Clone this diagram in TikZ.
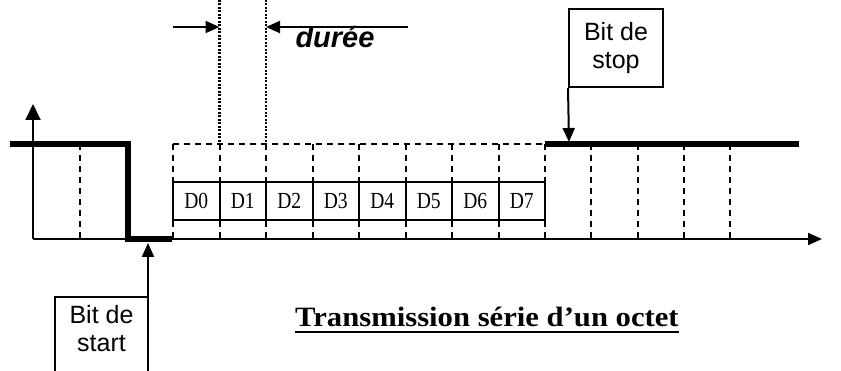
\documentclass[tikz,border=0pt]{standalone}
\usepackage{fontspec}
\setmainfont{Liberation Serif}
\setsansfont{Liberation Sans}
\usetikzlibrary{arrows.meta}
\tikzset{
  sig/.style={line width=5.5pt},
  thin/.style={line width=2pt},
  dashv/.style={line width=2pt, dash pattern=on 6pt off 5pt},
  dotv/.style={line width=2.4pt, dash pattern=on 2pt off 1.5pt},
  arr/.style={line width=2pt, -{Triangle[length=14pt,width=12pt]}},
  bigarr/.style={line width=2pt, -{Triangle[length=16pt,width=15pt]}},
  databox/.style={draw, line width=2pt, minimum width=46.5pt, minimum height=38pt, inner sep=0pt,
     font=\fontsize{23}{25}\selectfont},
  lbl/.style={align=center, inner sep=0pt, font=\sffamily\fontsize{25}{28}\selectfont},
}
\begin{document}
\begin{tikzpicture}[x=1pt,y=-1pt]
\useasboundingbox (0,0) rectangle (841,371);
% axes
\coordinate (O) at (33,239);
\coordinate (ytop) at (33,104);
\coordinate (xend) at (822,239);
\draw[bigarr] (O) -- (ytop);
\draw[arr] (O) -- (xend);
% idle high level and start bit
\coordinate (s0) at (10,144);
\coordinate (s1) at (128,144);
\coordinate (s2) at (128,239);
\coordinate (s3) at (172,239);
\draw[sig] (s0) -- (s1) -- (s2) -- (s3);
\draw[dashv] (80,144) -- (80,239);
% data frame (dashed)
\draw[dashv] (173,144) -- (545,144);
\foreach \x in {173,219.5,266,312.5,359,405.5,452,498.5,545}
  \draw[dashv] (\x,144) -- (\x,239);
% data boxes
\foreach \i [count=\k from 0] in {0,...,7}
  \node[databox] (d\i) at (196.25+46.5*\k,201) {\scalebox{0.85}[1]{D\i}};
% stop level
\coordinate (h0) at (545,144);
\coordinate (h1) at (799,144);
\draw[sig] (h0) -- (h1);
\foreach \x in {591,637.5,684,730}
  \draw[dashv] (\x,144) -- (\x,239);
% duration marks
\coordinate (v1t) at (219.5,0);
\coordinate (v1b) at (219.5,144);
\coordinate (v2t) at (266,0);
\coordinate (v2b) at (266,144);
\draw[dotv] (v1t) -- (v1b);
\draw[dotv] (v2t) -- (v2b);
\coordinate (a1s) at (173,27);
\coordinate (a1e) at (219.5,27);
\coordinate (a2s) at (408,27);
\coordinate (a2e) at (266,27);
\draw[arr] (a1s) -- (a1e);
\draw[arr] (a2s) -- (a2e);
\node[anchor=base, inner sep=0pt, font=\sffamily\bfseries\itshape\fontsize{29}{31}\selectfont] (duree) at (335,48) {durée};
% stop label
\node[lbl, draw, thin, minimum width=94pt, minimum height=78pt] (stop) at (616,48) {Bit de\\stop};
\coordinate (stoptip) at (569,142);
\draw[arr] (stop.south west) -- (stoptip);
% start label
\coordinate (b1) at (55,371);
\coordinate (b2) at (55,297);
\coordinate (b3) at (148,297);
\draw[thin] (b1) -- (b2) -- (b3);
\node[lbl] (start) at (101.5,329) {Bit de\\start};
\coordinate (startbase) at (148,371);
\coordinate (starttip) at (148,243);
\draw[arr] (startbase) -- (starttip);
% title
\node[anchor=base west, inner sep=0pt, font=\bfseries\fontsize{28}{30}\selectfont] (title) at (295,327) {\scalebox{1.095}[1]{Transmission série d’un octet}};
\draw[line width=2.5pt] ([yshift=-5pt]title.base west) -- ([yshift=-5pt]title.base east);
\end{tikzpicture}
\end{document}
